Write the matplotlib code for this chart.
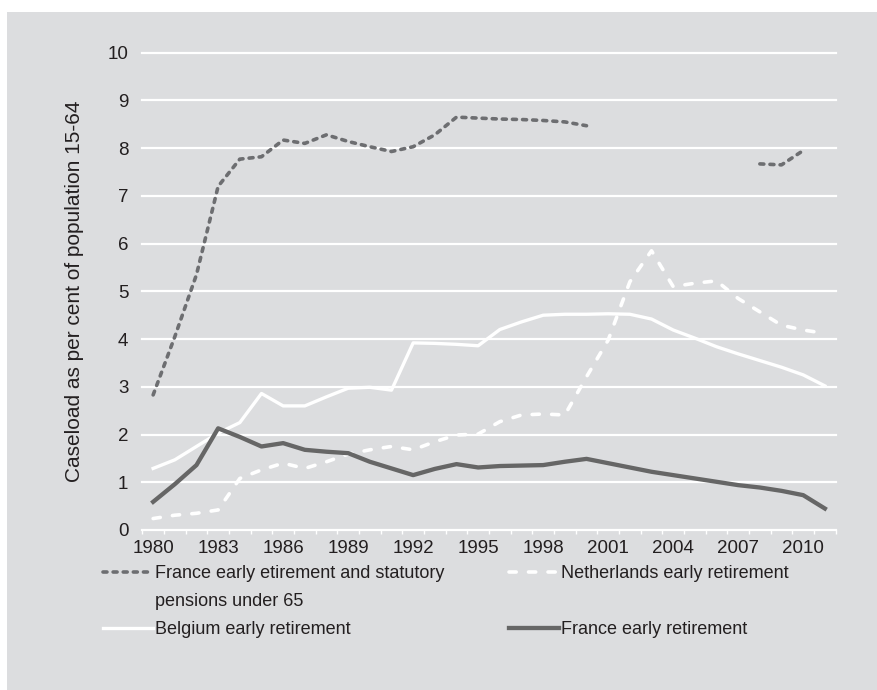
import numpy as np
import matplotlib
matplotlib.use('Agg')
import matplotlib.pyplot as plt
from matplotlib.patches import Rectangle
from matplotlib.lines import Line2D

plt.rcParams['font.family'] = ['Liberation Sans', 'DejaVu Sans']

# dados
anos = list(range(1980, 2012))
rotulos_anos = [1980, 1983, 1986, 1989, 1992, 1995, 1998, 2001, 2004, 2007, 2010]

nan = np.nan
franca_estatutaria = [2.83, 4.05, 5.35, 7.20, 7.77, 7.82, 8.17, 8.10, 8.28, 8.14,
                      8.03, 7.93, 8.03, 8.28, 8.65, 8.63, 8.61, 8.60, 8.58, 8.55,
                      8.47, nan, nan, nan, nan, nan, nan, nan, 7.67, 7.65,
                      7.95, nan]
holanda = [0.24, 0.31, 0.35, 0.42, 1.08, 1.26, 1.40, 1.29, 1.43, 1.59,
           1.68, 1.75, 1.68, 1.85, 1.99, 2.01, 2.27, 2.41, 2.43, 2.41,
           3.21, 3.98, 5.20, 5.85, 5.10, 5.17, 5.22, 4.85, 4.57, 4.29,
           4.19, 4.12]
belgica = [1.29, 1.47, 1.75, 2.03, 2.25, 2.86, 2.60, 2.60, 2.79, 2.97,
           2.99, 2.93, 3.92, 3.91, 3.89, 3.86, 4.20, 4.36, 4.50, 4.52,
           4.52, 4.53, 4.52, 4.42, 4.19, 4.02, 3.84, 3.69, 3.55, 3.41,
           3.25, 3.02]
franca_antecipada = [0.59, 0.96, 1.36, 2.13, 1.95, 1.75, 1.82, 1.68, 1.64, 1.61,
                     1.43, 1.29, 1.15, 1.28, 1.38, 1.31, 1.34, 1.35, 1.36, 1.43,
                     1.49, 1.40, 1.31, 1.22, 1.15, 1.08, 1.01, 0.94, 0.89, 0.82,
                     0.73, 0.45]

FUNDO = '#dcdddf'
ESCURO = '#6d6e71'
TEXTO = '#231f20'

fig = plt.figure(figsize=(8.77, 6.9), dpi=100)
fig.add_artist(Rectangle((7 / 877, 0), 1, 1 - 12 / 690, transform=fig.transFigure,
                         facecolor=FUNDO, edgecolor='none', zorder=0))

ax = fig.add_axes([142.3 / 877, 1 - 530 / 690, 693.4 / 877, 477.3 / 690])
ax.set_facecolor(FUNDO)

l1, = ax.plot(anos, franca_estatutaria, color=ESCURO, lw=2.6,
              dashes=(1.1, 1.7), dash_capstyle='round', solid_capstyle='round')
l2, = ax.plot(anos, holanda, color='white', lw=2.6,
              dashes=(2.0, 3.4), dash_capstyle='round')
l3, = ax.plot(anos, belgica, color='white', lw=2.4)
l4, = ax.plot(anos, franca_antecipada, color='#666666', lw=3.1)

ax.set_xlim(1979.5, 2011.5)
ax.set_ylim(0, 10)
ax.set_yticks(range(0, 11))
ax.set_xticks(rotulos_anos)
ax.set_xticks(np.arange(1979.5, 2012, 1), minor=True)
ax.tick_params(axis='x', which='major', length=0, pad=7, labelsize=13.5, labelcolor=TEXTO)
ax.tick_params(axis='x', which='minor', length=3, width=1, color='white', direction='out')
ax.tick_params(axis='y', length=0, pad=10, labelsize=13.5, labelcolor=TEXTO)

for s in ax.spines.values():
    s.set_visible(False)
ax.set_axisbelow(True)
ax.grid(axis='y', color='white', lw=1.6)
for g in ax.get_ygridlines():
    g.set_clip_on(False)

ax.set_ylabel('Caseload as per cent of population 15-64', fontsize=15, color=TEXTO)
ax.yaxis.set_label_coords(-0.084, 0.5)

# legenda em duas colunas; linha vazia para a segunda linha do primeiro rotulo
vazio = Line2D([], [], linestyle='none')
handles = [l1, vazio, l3, l2, vazio, l4]
labels = ['France early etirement and statutory', 'pensions under 65',
          'Belgium early retirement', 'Netherlands early retirement', '',
          'France early retirement']
fig.legend(handles, labels, ncol=2, loc='upper left',
           bbox_to_anchor=(103 / 877, 1 - 565 / 690), frameon=False,
           fontsize=13, labelcolor=TEXTO, handlelength=2.75, handletextpad=0.12,
           borderpad=0, borderaxespad=0, labelspacing=0.62, columnspacing=3.6)

plt.savefig('out.png', dpi=100, facecolor='white')
